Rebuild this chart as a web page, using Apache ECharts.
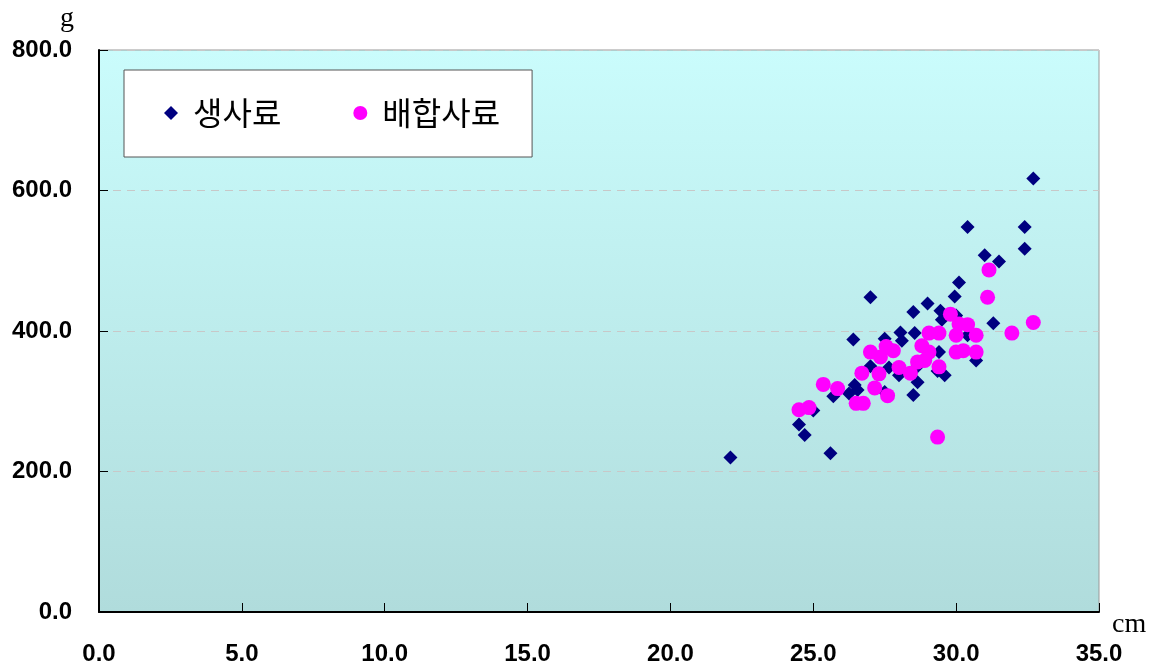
<!DOCTYPE html>
<html>
<head>
<meta charset="utf-8">
<script src="https://cdn.jsdelivr.net/npm/echarts@6/dist/echarts.min.js"></script>
<style>
  html, body { margin: 0; padding: 0; background: #fff; }
  #chart { width: 1159px; height: 668px; }
</style>
</head>
<body>
<div id="chart"></div>
<script>
// 전장(cm) 대비 체중(g): 생사료 / 배합사료
const seriesNames = ['생사료', '배합사료'];

const rawFeed = [
  [22.1, 220], [24.5, 267], [24.7, 252], [25.0, 287], [25.6, 226], [25.7, 307],
  [26.25, 311], [26.4, 388], [26.45, 323], [26.55, 316], [27.0, 448], [27.0, 350],
  [27.5, 389], [27.5, 313], [27.65, 348], [28.05, 398], [28.1, 386], [28.0, 337],
  [28.5, 427], [28.55, 397], [28.65, 350], [28.65, 327], [28.5, 309], [29.0, 439],
  [29.45, 429], [29.5, 416], [29.4, 370], [29.6, 337], [29.35, 343], [29.95, 449],
  [30.1, 469], [30.0, 422], [30.4, 394], [30.7, 358], [31.3, 411], [30.4, 548],
  [31.0, 508], [31.5, 499], [32.4, 548], [32.4, 517], [32.7, 617]
];

const formulaFeed = [
  [24.5, 288], [24.85, 291], [25.35, 324], [25.85, 318], [26.5, 297], [26.75, 297],
  [26.7, 340], [27.0, 370], [27.15, 319], [27.3, 339], [27.35, 363], [27.55, 378],
  [27.6, 308], [27.8, 372], [28.0, 348], [28.4, 340], [28.65, 356], [28.8, 379],
  [28.9, 358], [29.05, 397], [29.05, 370], [29.4, 397], [29.4, 349], [29.35, 249],
  [29.8, 424], [30.0, 394], [30.0, 370], [30.1, 410], [30.25, 372], [30.4, 409],
  [30.7, 394], [30.7, 370], [31.1, 448], [31.15, 487], [31.95, 397], [32.7, 412]
];

const xTicks = { min: 0, max: 35, interval: 5 };
const yTicks = { min: 0, max: 800, interval: 200 };

const chart = echarts.init(document.getElementById('chart'), null, { renderer: 'canvas' });

const tickLabel = {
  fontFamily: 'Liberation Sans, Arial, sans-serif',
  fontWeight: 'bold',
  fontSize: 24,
  color: '#000'
};

chart.setOption({
  animation: false,
  grid: {
    left: 99, right: 60, top: 50, bottom: 56,
    show: true,
    borderColor: '#999',
    borderWidth: 1,
    backgroundColor: new echarts.graphic.LinearGradient(0, 0, 0, 1, [
      { offset: 0, color: '#cafcfc' },
      { offset: 1, color: '#b0dcdc' }
    ])
  },
  legend: {
    left: 124, top: 70,
    orient: 'horizontal',
    padding: [27, 32, 28, 40],
    itemGap: 72,
    itemWidth: 14, itemHeight: 14,
    backgroundColor: '#fff',
    borderColor: '#555',
    borderWidth: 1,
    borderRadius: 0,
    textStyle: {
      fontFamily: 'Noto Sans CJK KR, sans-serif',
      fontSize: 32,
      color: '#000',
      padding: [0, 0, 0, 10]
    },
    data: [
      { name: seriesNames[0], icon: 'diamond' },
      { name: seriesNames[1], icon: 'circle' }
    ]
  },
  xAxis: {
    type: 'value',
    min: xTicks.min, max: xTicks.max, interval: xTicks.interval,
    axisLine: { show: true, onZero: false, lineStyle: { color: '#000', width: 2 } },
    axisTick: { show: true, inside: true, length: 9, lineStyle: { color: '#000', width: 1 } },
    axisLabel: Object.assign({ margin: 30, formatter: v => v.toFixed(1) }, tickLabel),
    splitLine: { show: false }
  },
  yAxis: {
    type: 'value',
    min: yTicks.min, max: yTicks.max, interval: yTicks.interval,
    axisLine: { show: true, onZero: false, lineStyle: { color: '#000', width: 2 } },
    axisTick: { show: true, inside: true, length: 9, lineStyle: { color: '#000', width: 1 } },
    axisLabel: Object.assign({ margin: 27, formatter: v => v.toFixed(1) }, tickLabel),
    splitLine: {
      show: true,
      lineStyle: { color: '#c8c8c8', type: [8, 6], width: 1 }
    }
  },
  graphic: [
    {
      type: 'text', left: 60, top: 5,
      style: { text: 'g', font: '28px "Liberation Serif", "DejaVu Serif", serif', fill: '#000' }
    },
    {
      type: 'text', left: 1112, top: 611,
      style: { text: 'cm', font: '28px "Liberation Serif", "DejaVu Serif", serif', fill: '#000' }
    }
  ],
  series: [
    {
      name: seriesNames[0],
      type: 'scatter',
      symbol: 'diamond',
      symbolSize: 14,
      itemStyle: { color: '#000080', opacity: 1 },
      data: rawFeed,
      z: 2
    },
    {
      name: seriesNames[1],
      type: 'scatter',
      symbol: 'circle',
      symbolSize: 15,
      itemStyle: { color: '#ff00ff', opacity: 1 },
      data: formulaFeed,
      z: 3
    }
  ]
});
</script>
</body>
</html>
